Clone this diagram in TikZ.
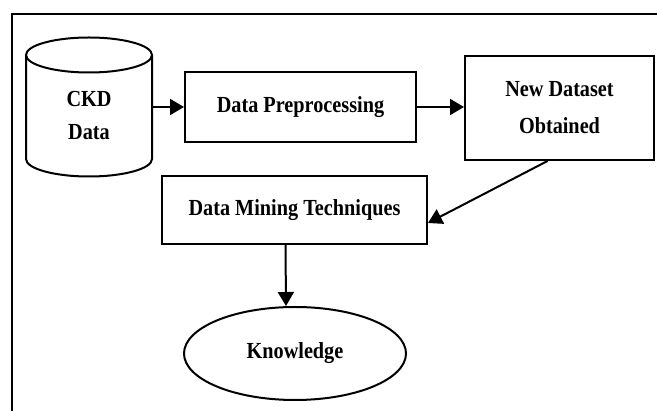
\documentclass[tikz,border=0pt]{standalone}
\usepackage{fontspec}
\setmainfont{Liberation Serif}[FakeStretch=0.88]
\usetikzlibrary{shapes.geometric,arrows.meta}
\tikzset{
	blk/.style={draw,line width=2pt,align=center,inner sep=0pt,font=\fontsize{23}{37}\selectfont\bfseries},
	lbl/.style={align=center,inner sep=0pt,font=\fontsize{23}{33}\selectfont\bfseries},
	arr/.style={-{Triangle[length=14pt,width=16pt]},line width=2pt}
}
\begin{document}
\begin{tikzpicture}[x=1pt,y=-1pt]
	\useasboundingbox (0,0) rectangle (657,411);
	\draw[line width=1.8pt] (12,411)--(12,14)--(657,14);
	% cylinder
	\draw[line width=2pt] (89,55) ellipse [x radius=63,y radius=17.5];
	\draw[line width=2pt] (26,55)--(26,159) arc[start angle=180,end angle=0,x radius=63,y radius=17.5]--(152,55);
	\node[lbl,minimum width=126pt] (ckd) at (89,116) {CKD\\Data};
	\node[blk,minimum width=231pt,minimum height=70pt] (pre) at (300.5,107) {Data Preprocessing};
	\node[blk,minimum width=189pt,minimum height=104pt] (new) at (559.5,108) {New Dataset\\Obtained};
	\node[blk,minimum width=265pt,minimum height=68pt] (mine) at (294.5,210) {Data Mining Techniques};
	\node[blk,ellipse,minimum width=222pt,minimum height=93pt] (know) at (295,353.5) {Knowledge};
	\draw[arr] (ckd.east |- pre.west) -- (pre.west);
	\draw[arr] (pre.east) -- (pre.east -| new.west);
	\draw[arr] ([xshift=-12pt]new.south) -- ([yshift=-13pt]mine.east);
	\draw[arr] ([xshift=-9pt]mine.south) -- ([xshift=-9pt]know.north);
\end{tikzpicture}
\end{document}
